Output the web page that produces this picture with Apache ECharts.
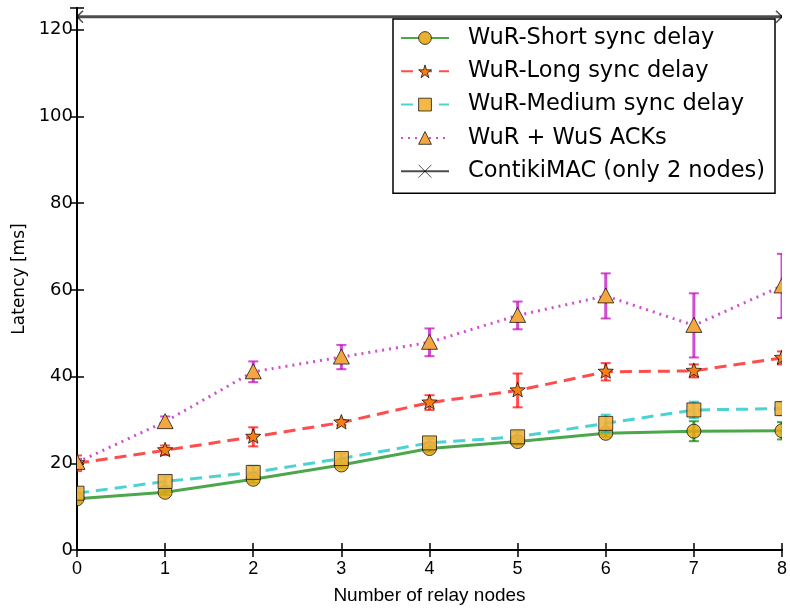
<!DOCTYPE html>
<html>
<head>
<meta charset="utf-8">
<script src="https://cdn.jsdelivr.net/npm/echarts@6/dist/echarts.min.js"></script>
<style>
html,body{margin:0;padding:0;background:#fff;}
#chart{width:790px;height:610px;}
</style>
</head>
<body>
<div id="chart"></div>
<script>
// ---- data ----
const relayNodes = [0, 1, 2, 3, 4, 5, 6, 7, 8];
const shortSync = [11.8, 13.3, 16.3, 19.6, 23.4, 25.0, 26.9, 27.4, 27.5];
const shortSyncErr = [0.8, 0.6, 0.8, 0.6, 0.8, 0.8, 0.8, 2.3, 2.0];
const longSync = [20.0, 23.0, 26.1, 29.4, 34.0, 36.8, 41.1, 41.3, 44.3];
const longSyncErr = [1.8, 1.1, 2.2, 0.6, 1.7, 3.9, 2.0, 1.5, 1.5];
const mediumSync = [13.1, 15.8, 17.9, 21.1, 24.7, 26.1, 29.2, 32.3, 32.6];
const mediumSyncErr = [1.0, 1.3, 1.5, 1.2, 1.0, 1.2, 2.0, 1.9, 1.5];
const wusAcks = [20.2, 29.6, 41.1, 44.5, 47.9, 54.1, 58.6, 51.8, 60.9];
const wusAcksErr = [0.8, 1.2, 2.4, 2.8, 3.2, 3.2, 5.2, 7.4, 7.4];
const contikiX = [0, 8];
const contikiMAC = [123, 123];
const contikiErr = [0, 0];
const seriesNames = ['WuR-Short sync delay', 'WuR-Long sync delay', 'WuR-Medium sync delay', 'WuR + WuS ACKs', 'ContikiMAC (only 2 nodes)'];
const yTicks = [0, 20, 40, 60, 80, 100, 120];
const xTicks = [0, 1, 2, 3, 4, 5, 6, 7, 8];

// ---- styles ----
const EDGE = 'rgba(0,0,0,0.7)';
const STAR_PATH = 'path://M50,0 L61,35 L98,35 L68,57 L79,91 L50,70 L21,91 L32,57 L2,35 L39,35 Z';
const X_PATH = 'path://M0,0 L10,10 M10,0 L0,10';

function markerCircle(p, fill) {
  return {type: 'circle', shape: {cx: p[0], cy: p[1], r: 7}, style: {fill: fill, stroke: EDGE, lineWidth: 1}};
}
function markerSquare(p, fill) {
  return {type: 'rect', shape: {x: p[0] - 7, y: p[1] - 7, width: 14, height: 14}, style: {fill: fill, stroke: EDGE, lineWidth: 1}};
}
function markerTriangle(p, fill) {
  return {type: 'polygon', shape: {points: [[p[0], p[1] - 8], [p[0] - 8, p[1] + 7], [p[0] + 8, p[1] + 7]]}, style: {fill: fill, stroke: EDGE, lineWidth: 1}};
}
function markerStar(p, fill) {
  const pts = [];
  for (let k = 0; k < 10; k++) {
    const r = k % 2 === 0 ? 8 : 3.4;
    const a = -Math.PI / 2 + k * Math.PI / 5;
    pts.push([p[0] + r * Math.cos(a), p[1] + r * Math.sin(a)]);
  }
  return {type: 'polygon', shape: {points: pts}, style: {fill: fill, stroke: EDGE, lineWidth: 1}};
}
function markerX(p, color) {
  return {type: 'group', children: [
    {type: 'line', shape: {x1: p[0] - 6, y1: p[1] - 6, x2: p[0] + 6, y2: p[1] + 6}, style: {stroke: color, lineWidth: 1.5}},
    {type: 'line', shape: {x1: p[0] - 6, y1: p[1] + 6, x2: p[0] + 6, y2: p[1] - 6}, style: {stroke: color, lineWidth: 1.5}}
  ]};
}

function lineSeries(name, xs, vals, color, type, symbol, fill) {
  return {
    type: 'line', name: name,
    data: xs.map((x, i) => [x, vals[i]]),
    showSymbol: false, symbol: symbol, symbolSize: 13,
    lineStyle: {color: color, width: 3, type: type},
    itemStyle: {color: fill, borderColor: EDGE, borderWidth: 1},
    z: 2, clip: true, silent: true
  };
}
function errSeries(name, xs, vals, errs, color, markerFn, fill) {
  return {
    type: 'custom', name: name, clip: true, z: 3, silent: true,
    data: xs.map((x, i) => [x, vals[i], errs[i]]),
    renderItem: function (params, api) {
      const x = api.value(0), y = api.value(1), e = api.value(2);
      const p = api.coord([x, y]);
      const children = [];
      if (e > 0) {
        const t = api.coord([x, y + e]), b = api.coord([x, y - e]);
        children.push({type: 'line', shape: {x1: t[0], y1: t[1], x2: b[0], y2: b[1]}, style: {stroke: color, lineWidth: 3}});
        children.push({type: 'line', shape: {x1: t[0] - 5, y1: t[1], x2: t[0] + 5, y2: t[1]}, style: {stroke: color, lineWidth: 2}});
        children.push({type: 'line', shape: {x1: b[0] - 5, y1: b[1], x2: b[0] + 5, y2: b[1]}, style: {stroke: color, lineWidth: 2}});
      }
      children.push(markerFn(p, fill));
      return {type: 'group', children: children};
    }
  };
}

const C_GREEN = 'rgba(0,128,0,0.7)';
const C_RED = 'rgba(255,0,0,0.7)';
const C_CYAN = 'rgba(0,191,191,0.7)';
const C_MAG = 'rgba(191,0,191,0.7)';
const C_GRAY = 'rgba(0,0,0,0.7)';

const series = [
  lineSeries(seriesNames[0], relayNodes, shortSync, C_GREEN, 'solid', 'circle', '#e9b12e'),
  errSeries(seriesNames[0], relayNodes, shortSync, shortSyncErr, C_GREEN, markerCircle, 'rgba(233,168,20,0.85)'),
  lineSeries(seriesNames[1], relayNodes, longSync, C_RED, [12, 7], STAR_PATH, '#f57f17'),
  errSeries(seriesNames[1], relayNodes, longSync, longSyncErr, C_RED, markerStar, '#f57f17'),
  lineSeries(seriesNames[2], relayNodes, mediumSync, C_CYAN, [12, 7], 'rect', '#f3b845'),
  errSeries(seriesNames[2], relayNodes, mediumSync, mediumSyncErr, C_CYAN, markerSquare, 'rgba(243,176,50,0.88)'),
  lineSeries(seriesNames[3], relayNodes, wusAcks, C_MAG, [2, 5], 'triangle', '#f4a640'),
  errSeries(seriesNames[3], relayNodes, wusAcks, wusAcksErr, C_MAG, markerTriangle, '#f4a640'),
  lineSeries(seriesNames[4], contikiX, contikiMAC, C_GRAY, 'solid', X_PATH, '#4d4d4d'),
  errSeries(seriesNames[4], contikiX, contikiMAC, contikiErr, C_GRAY, markerX, C_GRAY)
];
series[8].itemStyle = {color: '#4d4d4d', borderColor: '#4d4d4d', borderWidth: 1.5};

const axisLine = {show: true, lineStyle: {color: '#000', width: 2}};
const tickStyle = {show: true, inside: true, length: 7, lineStyle: {color: '#000', width: 1.5}};

const option = {
  animation: false,
  backgroundColor: '#fff',
  grid: {left: 77, right: 4, top: 8, bottom: 52, containLabel: false},
  legend: {
    orient: 'vertical', left: 393, top: 19,
    padding: [7, 10, 10, 7],
    itemGap: 9.3,
    itemWidth: 48, itemHeight: 16,
    selectedMode: false,
    backgroundColor: '#fff', borderColor: '#000', borderWidth: 1.5, borderRadius: 0,
    data: seriesNames,
    itemStyle: {borderColor: EDGE, borderWidth: 1},
    textStyle: {fontFamily: 'DejaVu Sans', fontSize: 22.5, color: '#000', lineHeight: 24, padding: [0, 0, 0, 14]}
  },
  xAxis: [{
    type: 'value', min: xTicks[0], max: xTicks[xTicks.length - 1], interval: 1,
    position: 'bottom',
    name: 'Number of relay nodes', nameLocation: 'middle', nameGap: 36,
    nameTextStyle: {fontFamily: 'Liberation Sans', fontSize: 19, color: '#000'},
    axisLine: axisLine, axisTick: tickStyle,
    axisLabel: {fontFamily: 'Liberation Sans', fontSize: 18, color: '#000', margin: 10},
    splitLine: {show: false}
  }, {
    type: 'value', min: xTicks[0], max: xTicks[xTicks.length - 1], interval: 1,
    position: 'top',
    axisLine: axisLine, axisTick: tickStyle,
    axisLabel: {show: false}, splitLine: {show: false}
  }],
  yAxis: [{
    type: 'value', min: 0, max: 125, interval: 20,
    position: 'left',
    name: 'Latency [ms]', nameLocation: 'middle', nameGap: 48,
    nameTextStyle: {fontFamily: 'DejaVu Sans', fontSize: 17, color: '#000'},
    axisLine: axisLine, axisTick: tickStyle,
    axisLabel: {fontFamily: 'DejaVu Sans', fontSize: 18, color: '#000', margin: 4,
      formatter: v => (yTicks.indexOf(v) >= 0 ? String(v) : '')},
    splitLine: {show: false}
  }, {
    type: 'value', min: 0, max: 125, interval: 20,
    position: 'right',
    axisLine: axisLine, axisTick: tickStyle,
    axisLabel: {show: false}, splitLine: {show: false}
  }],
  series: series
};

const chart = echarts.init(document.getElementById('chart'), null, {renderer: 'canvas'});
chart.setOption(option);
</script>
</body>
</html>
